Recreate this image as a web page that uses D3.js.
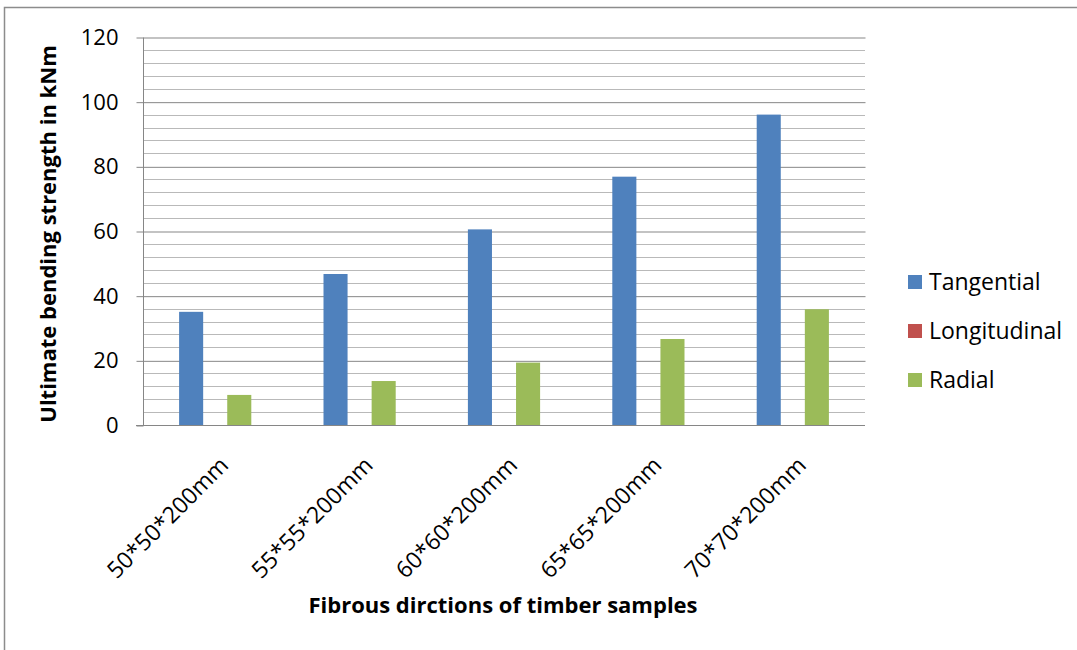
<!DOCTYPE html>
<html>
<head>
<meta charset="utf-8">
<script src="https://cdn.jsdelivr.net/npm/d3@7"></script>
<style>
  body { margin: 0; background: #fff; }
  text { font-family: "Open Sans", sans-serif; fill: #000; }
</style>
</head>
<body>
<svg id="chart" width="1077" height="650"></svg>
<script>
// data
const categories = ["50*50*200mm", "55*55*200mm", "60*60*200mm", "65*65*200mm", "70*70*200mm"];
const seriesNames = ["Tangential", "Longitudinal", "Radial"];
const tangential = [35, 46.7, 60.5, 76.8, 96];
const longitudinal = [0, 0, 0, 0, 0];
const radial = [9.3, 13.6, 19.3, 26.6, 35.8];
const majorTicks = [0, 20, 40, 60, 80, 100, 120];
const colors = ["#4F81BD", "#C0504D", "#9BBB59"];

const svg = d3.select("#chart");
const plot = { left: 143, right: 865, top: 37, bottom: 425 };

// outer frame
svg.append("rect")
  .attr("x", 4.5)
  .attr("y", 7.5)
  .attr("width", 1200)
  .attr("height", 800)
  .attr("fill", "none")
  .attr("stroke", "#8c8c8c")
  .attr("stroke-width", 1.5);

const x0 = d3.scaleBand()
  .domain(categories)
  .range([plot.left, plot.right])
  .paddingInner(0.5)
  .paddingOuter(0.25);

const x1 = d3.scaleBand()
  .domain(seriesNames)
  .range([0, x0.bandwidth()]);

const y = d3.scaleLinear()
  .domain([0, 120])
  .range([plot.bottom, plot.top]);

// minor gridlines every 4
svg.append("g")
  .selectAll("line")
  .data(d3.range(4, 120, 4).filter(v => v % 20 !== 0))
  .join("line")
    .attr("x1", plot.left)
    .attr("x2", plot.right)
    .attr("y1", d => Math.round(y(d)) + 0.5)
    .attr("y2", d => Math.round(y(d)) + 0.5)
    .attr("stroke", "#b9b9b9");

// y axis with major gridlines
const yAxis = d3.axisLeft(y)
  .tickValues(majorTicks)
  .tickSize(7)
  .tickPadding(18);

const yg = svg.append("g")
  .attr("transform", `translate(${plot.left + 0.5}, 0.5)`)
  .call(yAxis);
yg.select(".domain").attr("stroke", "#868686").attr("d", `M0,${plot.top}V${plot.bottom}`);
yg.selectAll(".tick line").attr("stroke", "#868686");
yg.selectAll(".tick text")
  .attr("font-size", 22)
  .attr("font-family", "Open Sans, sans-serif");
yg.selectAll(".tick")
  .filter(d => d !== 0)
  .append("line")
    .attr("x1", 0)
    .attr("x2", plot.right - plot.left)
    .attr("stroke", "#878787");

// bars
const table = categories.map((c, i) => ({
  category: c,
  values: [tangential[i], longitudinal[i], radial[i]]
}));

svg.append("g")
  .selectAll("g")
  .data(table)
  .join("g")
    .attr("transform", d => `translate(${x0(d.category)}, 0)`)
  .selectAll("rect")
  .data(d => d.values.map((v, j) => ({ name: seriesNames[j], value: v, color: colors[j] })))
  .join("rect")
    .attr("x", d => x1(d.name))
    .attr("width", x1.bandwidth())
    .attr("y", d => y(d.value))
    .attr("height", d => y(0) - y(d.value))
    .attr("fill", d => d.color);

// x axis line
svg.append("line")
  .attr("x1", plot.left - 7)
  .attr("x2", plot.right)
  .attr("y1", plot.bottom + 0.5)
  .attr("y2", plot.bottom + 0.5)
  .attr("stroke", "#868686");

// rotated category labels
svg.append("g")
  .selectAll("text")
  .data(categories)
  .join("text")
    .attr("transform", d => `translate(${x0(d) + x0.bandwidth() / 2 + 3}, 455) rotate(-45)`)
    .attr("dy", "0.72em")
    .attr("text-anchor", "end")
    .attr("font-size", 23)
    .text(d => d);

// axis titles
svg.append("text")
  .attr("transform", `translate(56, 234) rotate(-90)`)
  .attr("text-anchor", "middle")
  .attr("font-size", 22)
  .attr("font-weight", "bold")
  .text("Ultimate bending strength in kNm");

svg.append("text")
  .attr("x", 503)
  .attr("y", 613)
  .attr("text-anchor", "middle")
  .attr("font-size", 22)
  .attr("font-weight", "bold")
  .text("Fibrous dirctions of timber samples");

// legend
const legend = svg.append("g")
  .selectAll("g")
  .data(seriesNames)
  .join("g")
    .attr("transform", (d, i) => `translate(908, ${275 + i * 49})`);

legend.append("rect")
  .attr("width", 14)
  .attr("height", 14)
  .attr("fill", (d, i) => colors[i]);

legend.append("text")
  .attr("x", 21)
  .attr("y", 15)
  .attr("font-size", 23)
  .text(d => d);
</script>
</body>
</html>
